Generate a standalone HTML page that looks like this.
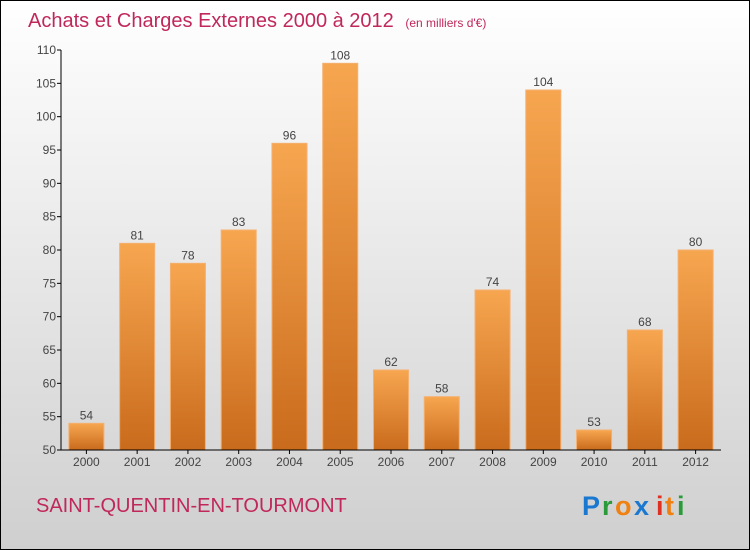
<!DOCTYPE html>
<html><head><meta charset="utf-8"><style>
body{margin:0}
svg{display:block;font-family:"Liberation Sans",sans-serif}
</style></head><body>
<svg id="c" width="750" height="550" viewBox="0 0 750 550">
<defs>
<linearGradient id="bg" x1="0" y1="0" x2="0" y2="1"><stop offset="0" stop-color="#ffffff"/><stop offset="1" stop-color="#cfcfcf"/></linearGradient>
<linearGradient id="bar" x1="0" y1="0" x2="0" y2="1"><stop offset="0" stop-color="#f7a650"/><stop offset="1" stop-color="#c96b1c"/></linearGradient>
</defs>
<rect x="0.5" y="0.5" width="749" height="549" fill="url(#bg)" stroke="#000"/>
<text x="28" y="27" font-size="20" fill="#c0285a">Achats et Charges Externes 2000 à 2012 <tspan font-size="12" dx="6">(en milliers d'€)</tspan></text>
<g id="plot"></g>
<text x="36" y="512" font-size="20" fill="#c0285a">SAINT-QUENTIN-EN-TOURMONT</text>
<g font-size="27" font-weight="bold">
<text x="582" y="515" fill="#1a78d0">P</text><text x="602" y="515" fill="#2a9a3a">r</text><text x="615" y="515" fill="#f08010">o</text><text x="634" y="515" fill="#1a78d0">x</text><text x="656" y="515" fill="#e03020">i</text><text x="665" y="515" fill="#f08010">t</text><text x="677" y="515" fill="#2a9a3a">i</text>
</g>
</svg>
<script>
const categories=["2000","2001","2002","2003","2004","2005","2006","2007","2008","2009","2010","2011","2012"];
const values=[54,81,78,83,96,108,62,58,74,104,53,68,80];
const yTicks=[50,55,60,65,70,75,80,85,90,95,100,105,110];
const NS="http://www.w3.org/2000/svg";
const g=document.getElementById("plot");
const x0=61,x1=721,yTop=50,yBot=450,vMin=50,vMax=110;
const y=v=>yBot-(v-vMin)/(vMax-vMin)*(yBot-yTop);
const step=(x1-x0)/categories.length;
const xc=i=>x0+step*(i+0.5);
function mk(t,a){const e=document.createElementNS(NS,t);for(const k in a)e.setAttribute(k,a[k]);g.appendChild(e);return e;}
yTicks.forEach(v=>{
 const l=mk("line",{x1:x0-4,x2:x0,y1:y(v),y2:y(v),stroke:"#000"});
 
 
 const t=mk("text",{x:x0-5,y:y(v)+4,"text-anchor":"end","font-size":"12",fill:"#444"});
 t.textContent=v;
 
 
});
categories.forEach((c,i)=>{
 const v=values[i],w=35;
 const r=mk("rect",{x:xc(i)-w/2,y:y(v),width:w,height:yBot-y(v),fill:"url(#bar)",stroke:"#f5b070","stroke-width":"1"});
 
 
 const t=mk("text",{x:xc(i),y:y(v)-4,"text-anchor":"middle","font-size":"12",fill:"#444"});
 t.textContent=v;
 
 
 const tk=mk("line",{x1:xc(i),x2:xc(i),y1:yBot,y2:yBot+4,stroke:"#000"});
 
 
 const xl=mk("text",{x:xc(i),y:yBot+16,"text-anchor":"middle","font-size":"12",fill:"#444"});
 xl.textContent=c;
 
 
});
const ya=mk("line",{x1:x0,x2:x0,y1:yTop,y2:yBot,stroke:"#000"});


const xa=mk("line",{x1:x0,x2:x1,y1:yBot,y2:yBot,stroke:"#000"});


</script>
</body></html>
